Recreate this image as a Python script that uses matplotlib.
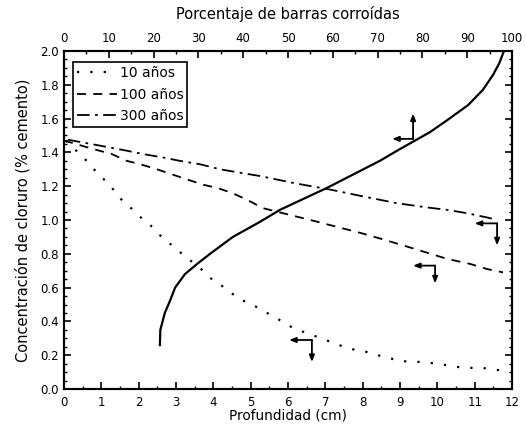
import matplotlib as mpl
import matplotlib.pyplot as plt
from matplotlib.ticker import MultipleLocator

mpl.rcParams.update({
    "font.family": ["DejaVu Sans"],
    "font.size": 8.5,
    "axes.linewidth": 1.5,
    "xtick.direction": "in",
    "ytick.direction": "in",
    "xtick.major.size": 5,
    "ytick.major.size": 5,
    "xtick.minor.size": 2.5,
    "ytick.minor.size": 2.5,
    "xtick.major.width": 1.2,
    "ytick.major.width": 1.2,
    "xtick.minor.width": 1.0,
    "ytick.minor.width": 1.0,
    "xtick.major.pad": 5,
})

# 10 anos (profundidad cm, concentracion %)
x10 = [0.05, 0.7, 0.91, 1.18, 1.39, 1.58, 1.85, 2.08, 2.36, 2.57, 3.05, 3.78, 4.0,
       4.23, 4.71, 4.95, 5.2, 5.68, 5.92, 6.14, 6.64, 7.13, 7.61, 8.09, 8.57, 9.05,
       9.54, 10.0, 10.7, 10.96, 11.2, 11.7]
y10 = [1.47, 1.33, 1.27, 1.22, 1.16, 1.11, 1.06, 1.01, 0.96, 0.91, 0.82, 0.69, 0.64,
       0.61, 0.53, 0.51, 0.48, 0.42, 0.39, 0.36, 0.32, 0.28, 0.24, 0.22, 0.19, 0.165,
       0.16, 0.15, 0.125, 0.125, 0.125, 0.11]

# 100 anos
x100 = [0.0, 0.78, 1.28, 1.68, 2.04, 2.49, 2.89, 3.3, 3.7, 4.1, 4.5, 4.9, 5.33, 6.05,
        6.6, 7.3, 8.0, 8.55, 9.08, 9.6, 10.26, 10.88, 11.33, 11.76]
y100 = [1.47, 1.42, 1.39, 1.35, 1.33, 1.30, 1.27, 1.24, 1.21, 1.19, 1.16, 1.12, 1.07,
        1.03, 1.0, 0.96, 0.92, 0.885, 0.85, 0.815, 0.77, 0.74, 0.71, 0.69]

# 300 anos
x300 = [0.1, 0.96, 1.68, 2.12, 2.65, 3.1, 3.64, 4.18, 4.71, 5.25, 6.24, 7.13, 8.0,
        8.9, 9.7, 10.26, 10.8, 11.33, 11.6]
y300 = [1.475, 1.44, 1.41, 1.39, 1.37, 1.35, 1.33, 1.30, 1.28, 1.26, 1.215, 1.18, 1.14,
        1.10, 1.075, 1.06, 1.04, 1.015, 1.0]

# porcentaje de barras corroidas vs concentracion
pct = [21.4, 21.5, 22.5, 23.7, 24.8, 27.0, 29.7, 32.6, 37.7, 43.8, 48.2, 58.7, 70.5,
       75.0, 81.7, 85.5, 90.2, 93.5, 95.8, 97.2, 98.2]
conc = [0.26, 0.35, 0.45, 0.525, 0.60, 0.68, 0.74, 0.80, 0.90, 0.99, 1.06, 1.19, 1.35,
        1.42, 1.52, 1.59, 1.68, 1.77, 1.86, 1.93, 2.0]

# flechas: esquina (x, y), punta izquierda x, punta vertical y
arrows = [
    (9.35, 1.48, 8.79, 1.63),
    (11.6, 0.98, 11.0, 0.85),
    (9.94, 0.73, 9.35, 0.625),
    (6.64, 0.29, 6.03, 0.16),
]

fig = plt.figure(figsize=(5.26, 4.32), dpi=100)
ax = fig.add_axes([0.1217, 0.0995, 0.8517, 0.7825])

ax.plot(x10, y10, color="black", lw=1.6, linestyle=(0, (1, 5)), label="10 años")
ax.plot(x100, y100, color="black", lw=1.3, linestyle=(0, (5, 4)), label="100 años")
ax.plot(x300, y300, color="black", lw=1.3, linestyle=(0, (7, 3, 1.5, 3)),
        label="300 años")

ax.set_xlim(0, 12)
ax.set_ylim(0, 2.0)
ax.xaxis.set_major_locator(MultipleLocator(1))
ax.xaxis.set_minor_locator(MultipleLocator(0.5))
ax.yaxis.set_major_locator(MultipleLocator(0.2))
ax.yaxis.set_minor_locator(MultipleLocator(0.05))
ax.tick_params(which="both", right=True)
ax.yaxis.set_major_formatter(mpl.ticker.FormatStrFormatter("%.1f"))
ax.set_xlabel("Profundidad (cm)", fontsize=9.8, labelpad=0)
ax.set_ylabel("Concentración de cloruro (% cemento)", fontsize=10.5, labelpad=7)

for cx, cy, lx, vy in arrows:
    ap = dict(arrowstyle="-|>,head_length=0.45,head_width=0.18", color="black",
              lw=1.3, shrinkA=0, shrinkB=0)
    ax.annotate("", xy=(lx, cy), xytext=(cx, cy), arrowprops=ap)
    ax.annotate("", xy=(cx, vy), xytext=(cx, cy), arrowprops=ap)

top = ax.twiny()
top.plot(pct, conc, color="black", lw=1.6)
top.set_xlim(0, 100)
top.xaxis.set_major_locator(MultipleLocator(10))
top.xaxis.set_minor_locator(MultipleLocator(5))
top.tick_params(axis="x", which="major", pad=4)
top.set_xlabel("Porcentaje de barras corroídas", fontsize=10.5, labelpad=10)

leg = ax.legend(loc="upper left", bbox_to_anchor=(0.02, 0.968), frameon=True,
                fancybox=False, edgecolor="black", framealpha=1, handlelength=2.9,
                handletextpad=0.15, borderpad=0.3, borderaxespad=0,
                labelspacing=0.55, fontsize=10)
leg.get_frame().set_linewidth(1.2)

fig.savefig("out.png", dpi=100)
